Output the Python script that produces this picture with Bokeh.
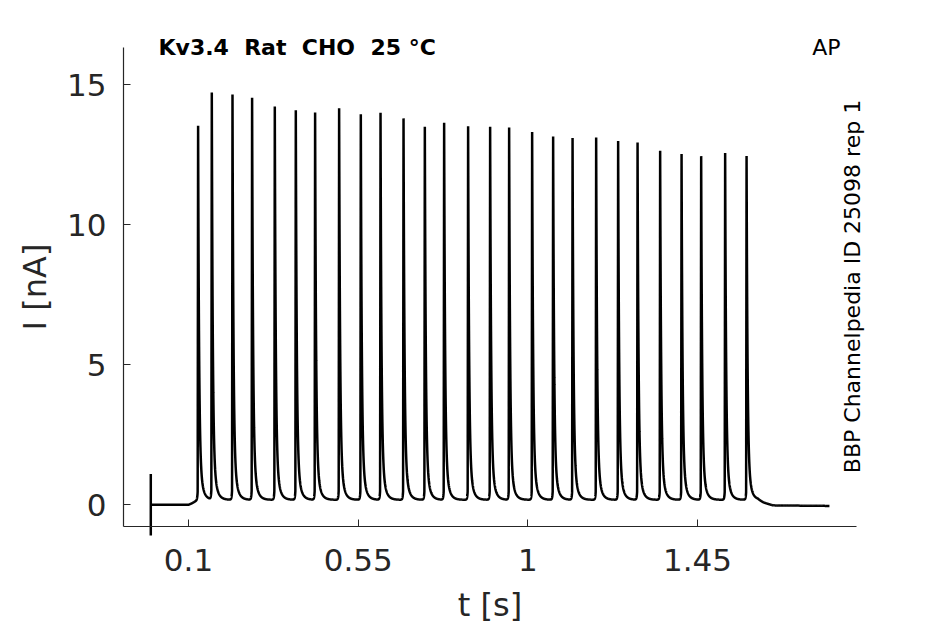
import numpy as np
from bokeh.plotting import figure
from bokeh.models import Label, FixedTicker, Range1d
from bokeh.embed import file_html
from bokeh.resources import INLINE

# ---- data ----
spike_t = [0.1255, 0.1618, 0.2167, 0.2687, 0.3289, 0.3846, 0.4358, 0.4995, 0.5570,
           0.6093, 0.6703, 0.7268, 0.7780, 0.8416, 0.9000, 0.9504, 1.0114, 1.0671,
           1.1186, 1.1812, 1.2395, 1.2910, 1.3509, 1.4077, 1.4597, 1.5233, 1.5801]
spike_peak = [13.54, 14.70, 14.65, 14.53, 14.22, 14.09, 14.01, 14.16, 13.95,
              14.00, 13.80, 13.50, 13.64, 13.52, 13.50, 13.47, 13.31, 13.15,
              13.10, 13.12, 12.99, 12.94, 12.64, 12.53, 12.45, 12.56, 12.46]
base_t = [0.0, 0.100, 0.110, 0.125, 1.610, 1.625, 1.650, 1.800]
base_i = [0.0, 0.0, 0.06, 0.18, 0.18, 0.08, -0.02, -0.04]
step_t = [0.0, 0.0, 0.0, 0.0]
step_i = [0.0, 1.1, -1.1, 0.0]
x_ticks = [0.1, 0.55, 1.0, 1.45]
x_tick_labels = ["0.1", "0.55", "1", "1.45"]
y_ticks = [0, 5, 10, 15]
x_axis_bounds = (-0.0724, 1.8725)
y_axis_bounds = (-0.775, 16.34)

# spike waveform template (rise, fast/slow decay)
rise, tau_r, tau1, tau2, frac2 = 0.0012, 0.0012, 0.0025, 0.008, 0.15

grid = np.arange(0.0, 1.8, 0.0001)
t = np.union1d(grid, np.array(spike_t))
cur = np.interp(t, base_t, base_i)
for ts, pk in zip(spike_t, spike_peak):
    amp = pk - np.interp(ts, base_t, base_i)
    u = t - ts
    shape = np.zeros_like(t)
    m1 = (u < 0) & (u > -0.02)
    lin = np.clip(1 + u[m1] / rise, 0, None)
    shape[m1] = np.maximum(lin, 0.06 * np.exp(u[m1] / tau_r))
    m2 = u >= 0
    d = u[m2]
    shape[m2] = (1 - frac2) * np.exp(-d / tau1) + frac2 * np.exp(-d / tau2)
    cur += amp * shape

xs = list(step_t) + list(t)
ys = list(step_i) + list(cur)

FONT = "DejaVu Sans"
GRAY = "#262626"
W, H = 945, 624

p = figure(width=W, height=H, output_backend="svg", toolbar_location=None,
           x_range=Range1d(-0.3986, 2.1077), y_range=Range1d(-4.275, 18.011),
           min_border_left=0, min_border_right=0, min_border_top=0,
           min_border_bottom=0)
p.outline_line_color = None
p.grid.visible = False
p.background_fill_color = "white"
p.border_fill_color = "white"

p.line(xs, ys, line_color="black", line_width=2.5)

p.xaxis.ticker = FixedTicker(ticks=x_ticks)
p.xaxis.major_label_overrides = {v: s for v, s in zip(x_ticks, x_tick_labels)}
p.yaxis.ticker = FixedTicker(ticks=y_ticks)
p.xaxis.fixed_location = y_axis_bounds[0]
p.yaxis.fixed_location = x_axis_bounds[0]
p.xaxis.bounds = x_axis_bounds
p.yaxis.bounds = y_axis_bounds
for ax in (p.xaxis, p.yaxis):
    ax.major_tick_in = 7
    ax.major_tick_out = 0
    ax.minor_tick_line_color = None
    ax.axis_line_color = GRAY
    ax.major_tick_line_color = GRAY
    ax.axis_line_width = 1.2
    ax.major_label_text_font = FONT
    ax.major_label_text_font_size = "31px"
    ax.major_label_text_color = GRAY
    ax.axis_label_text_font = FONT
    ax.axis_label_text_font_size = "32px"
    ax.axis_label_text_font_style = "normal"
    ax.axis_label_text_color = GRAY
p.xaxis.axis_label = "t [s]"
p.yaxis.axis_label = "I [nA]"
p.xaxis.major_label_standoff = 22
p.yaxis.major_label_standoff = 17
p.xaxis.axis_label_standoff = 12
p.yaxis.axis_label_standoff = 10

p.add_layout(Label(x=158, y=577.3, x_units="screen", y_units="screen",
                   text="Kv3.4\u00a0 Rat\u00a0 CHO\u00a0 25 °C", text_font=FONT,
                   text_font_style="bold", text_font_size="22px",
                   text_color="black", text_baseline="alphabetic"))
p.add_layout(Label(x=840, y=577.3, x_units="screen", y_units="screen",
                   text="AP", text_font=FONT, text_font_size="22px",
                   text_color="black", text_align="right",
                   text_baseline="alphabetic"))
p.add_layout(Label(x=852, y=338, x_units="screen", y_units="screen",
                   text="BBP Channelpedia ID 25098 rep 1", text_font=FONT,
                   text_font_size="22px", text_color="black", angle=np.pi / 2,
                   text_align="center", text_baseline="alphabetic"))

open("out.html", "w").write(file_html(p, INLINE))
